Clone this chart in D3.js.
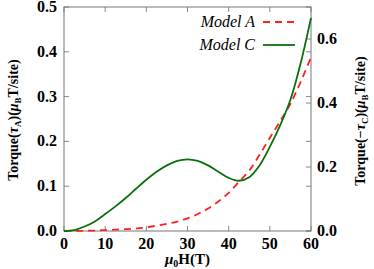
<!DOCTYPE html>
<html>
<head>
<meta charset="utf-8">
<script src="https://cdn.jsdelivr.net/npm/d3@7/dist/d3.min.js"></script>
<style>
  body { margin: 0; background: #fff; }
</style>
</head>
<body>
<svg id="chart" width="374" height="269"></svg>
<script>
// campo aplicado (T)
const fieldH = [0, 2.5, 5, 7.5, 10, 12.5, 15, 17.5, 20, 22.5, 25, 27.5, 30,
  32.5, 35, 37.5, 40, 42.5, 45, 47.5, 50, 52.5, 55, 57.5, 60];
// Model A -> eje izquierdo
const modelA = [0, 0.0002, 0.0005, 0.001, 0.002, 0.003, 0.004, 0.006, 0.008, 0.012, 0.016, 0.021, 0.028,
  0.038, 0.05, 0.066, 0.085, 0.11, 0.135, 0.17, 0.208, 0.245, 0.284, 0.333, 0.388];
// Model C -> eje derecho
const modelC = [0, 0.003, 0.014, 0.03, 0.053, 0.077, 0.103, 0.132, 0.16, 0.185, 0.205, 0.219, 0.224,
  0.219, 0.205, 0.185, 0.166, 0.157, 0.168, 0.205, 0.263, 0.33, 0.41, 0.525, 0.666];
const xTicks = [0, 10, 20, 30, 40, 50, 60];
const yTicks = [0, 0.1, 0.2, 0.3, 0.4, 0.5];
const y2Ticks = [0, 0.2, 0.4, 0.6];

(function() {
  const svg = d3.select('#chart');
  const serif = 'Liberation Serif';
  const width = 374, height = 269;
  const m = { top: 7, right: 63, bottom: 38, left: 64 };
  const w = width - m.left - m.right;
  const h = height - m.top - m.bottom;

  const x = d3.scaleLinear().domain([0, 60]).range([m.left, m.left + w]);
  const y = d3.scaleLinear().domain([0, 0.5]).range([m.top + h, m.top]);
  const y2 = d3.scaleLinear().domain([0, 0.7]).range([m.top + h, m.top]);

  const g = svg.append('g');
  const tickLen = 5;
  const tickColor = '#888';

  // ticks hacia dentro en los cuatro lados
  const ticksG = g.append('g').attr('stroke', tickColor).attr('stroke-width', 1);
  xTicks.forEach(function(t) {
    ticksG.append('line').attr('x1', x(t)).attr('x2', x(t))
      .attr('y1', m.top + h).attr('y2', m.top + h - tickLen);
    ticksG.append('line').attr('x1', x(t)).attr('x2', x(t))
      .attr('y1', m.top).attr('y2', m.top + tickLen);
  });
  yTicks.forEach(function(t) {
    ticksG.append('line').attr('x1', m.left).attr('x2', m.left + tickLen)
      .attr('y1', y(t)).attr('y2', y(t));
    ticksG.append('line').attr('x1', m.left + w).attr('x2', m.left + w - tickLen)
      .attr('y1', y(t)).attr('y2', y(t));
  });
  y2Ticks.forEach(function(t) {
    ticksG.append('line').attr('x1', m.left + w).attr('x2', m.left + w - tickLen)
      .attr('y1', y2(t)).attr('y2', y2(t));
  });

  // marco
  g.append('rect').attr('x', m.left).attr('y', m.top).attr('width', w).attr('height', h)
    .attr('fill', 'none').attr('stroke', '#777').attr('stroke-width', 1);

  // etiquetas de ticks
  const tickFont = 16;
  g.selectAll('.xt').data(xTicks).join('text')
    .attr('x', d => x(d)).attr('y', m.top + h + 18)
    .attr('text-anchor', 'middle').attr('font-weight', 'bold').attr('font-size', tickFont)
    .style('font-family', serif)
    .text(d => d);
  g.selectAll('.yt').data(yTicks).join('text')
    .attr('x', m.left - 7).attr('y', d => y(d) + 5)
    .attr('text-anchor', 'end').attr('font-weight', 'bold').attr('font-size', tickFont)
    .style('font-family', serif)
    .text(d => d.toFixed(1));
  g.selectAll('.y2t').data(y2Ticks).join('text')
    .attr('x', m.left + w + 6).attr('y', d => y2(d) + 5)
    .attr('text-anchor', 'start').attr('font-weight', 'bold').attr('font-size', tickFont)
    .style('font-family', serif)
    .text(d => d.toFixed(1));

  // curvas
  const lineA = d3.line().x((d, i) => x(fieldH[i])).y(d => y(d)).curve(d3.curveCatmullRom);
  const lineC = d3.line().x((d, i) => x(fieldH[i])).y(d => y2(d)).curve(d3.curveCatmullRom);

  g.append('path').datum(modelA).attr('d', lineA)
    .attr('fill', 'none').attr('stroke', '#ff2020').attr('stroke-width', 1.8)
    .attr('stroke-dasharray', '7,5');
  g.append('path').datum(modelC).attr('d', lineC)
    .attr('fill', 'none').attr('stroke', '#0a700a').attr('stroke-width', 1.8);

  // leyenda
  const leg = g.append('g');
  leg.append('text').attr('x', 255).attr('y', 27).attr('text-anchor', 'end')
    .style('font-family', serif)
    .attr('font-style', 'italic').attr('font-size', 16).text('Model A');
  leg.append('line').attr('x1', 263).attr('x2', 295).attr('y1', 22).attr('y2', 22)
    .attr('stroke', '#ff2020').attr('stroke-width', 1.8).attr('stroke-dasharray', '7,5');
  leg.append('text').attr('x', 255).attr('y', 50).attr('text-anchor', 'end')
    .style('font-family', serif)
    .attr('font-style', 'italic').attr('font-size', 16).text('Model C');
  leg.append('line').attr('x1', 263).attr('x2', 295).attr('y1', 45).attr('y2', 45)
    .attr('stroke', '#0a700a').attr('stroke-width', 1.8);

  // título eje x
  const xl = g.append('text').attr('x', m.left + w / 2).attr('y', 264)
    .style('font-family', serif)
    .attr('text-anchor', 'middle').attr('font-weight', 'bold').attr('font-size', 15);
  xl.append('tspan').attr('font-style', 'italic').text('μ');
  xl.append('tspan').attr('font-size', 10).attr('dy', 3).text('0');
  xl.append('tspan').attr('dy', -3).text('H(T)');

  // títulos ejes y
  function yLabel(cx, cy, tau) {
    const t = g.append('text').attr('transform', 'translate(' + cx + ',' + cy + ') rotate(-90)')
      .style('font-family', serif)
      .attr('text-anchor', 'middle').attr('font-weight', 'bold').attr('font-size', 14);
    t.append('tspan').text('Torque(' + tau.pre);
    t.append('tspan').attr('font-style', 'italic').text('τ');
    t.append('tspan').attr('font-size', 9).attr('dy', 3).text(tau.sub);
    t.append('tspan').attr('dy', -3).text(')(');
    t.append('tspan').attr('font-style', 'italic').text('μ');
    t.append('tspan').attr('font-size', 9).attr('dy', 3).text('B');
    t.append('tspan').attr('dy', -3).text('T/site)');
  }
  yLabel(18, 120, { pre: '', sub: 'A' });
  yLabel(365, 121, { pre: '−', sub: 'C' });
})();
</script>
</body>
</html>
